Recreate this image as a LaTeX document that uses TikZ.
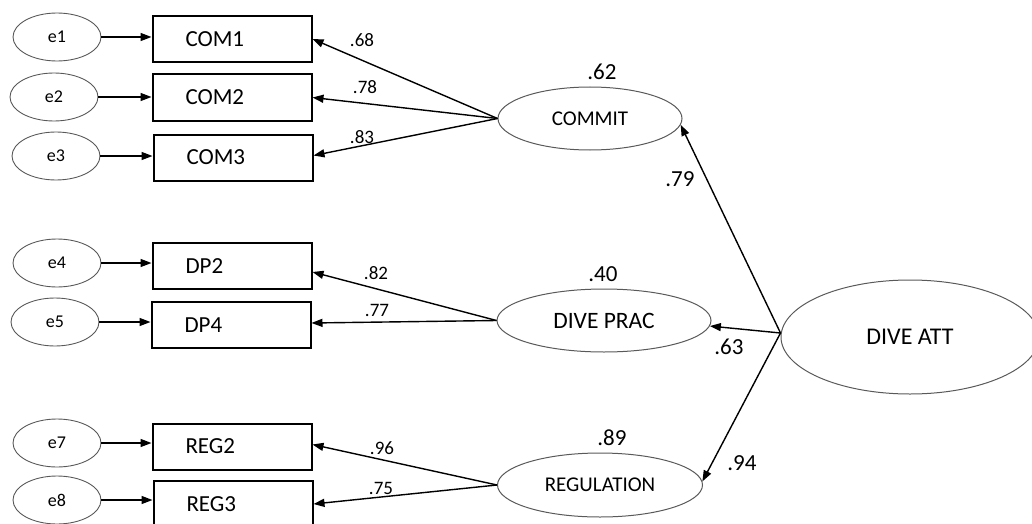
\documentclass[tikz,border=0pt]{standalone}
\usepackage{fontspec}
\setmainfont{Carlito}
\usetikzlibrary{shapes.geometric,arrows.meta}

\tikzset{
  obs/.style={draw, line width=2pt, minimum height=46pt, text width=93pt,
    inner xsep=33pt, inner ysep=0pt, align=left,
    font=\fontsize{23}{27}\selectfont},
  err/.style={draw=black!65, line width=0.9pt, ellipse, minimum width=88pt,
    minimum height=48pt, inner sep=0pt, font=\fontsize{18}{20}\selectfont},
  lat/.style={draw=black!65, line width=1pt, ellipse, inner sep=0pt},
  regpath/.style={line width=1.4pt, -{Triangle[length=11pt,width=8pt]}},
  coef/.style={inner sep=0pt, font=\fontsize{19}{21}\selectfont},
  bigcoef/.style={inner sep=0pt, font=\fontsize{23}{26}\selectfont}
}

\begin{document}
\begin{tikzpicture}[x=1pt,y=-1pt]
\useasboundingbox (0,0) rectangle (1032,524);

% error terms
\node[err] (e1) at (57,37)  {e1};
\node[err] (e2) at (54,97)  {e2};
\node[err] (e3) at (56,156) {e3};
\node[err] (e4) at (57,263) {e4};
\node[err] (e5) at (55,322) {e5};
\node[err] (e7) at (57,443) {e7};
\node[err] (e8) at (57,500) {e8};

% observed indicators
\node[obs] (com1) at (232,39)    {COM1};
\node[obs] (com2) at (232,97.5)  {COM2};
\node[obs] (com3) at (233,157.5) {COM3};
\node[obs] (dp2)  at (232,266)   {DP2};
\node[obs] (dp4)  at (231,325)   {DP4};
\node[obs] (reg2) at (232,446.5) {REG2};
\node[obs] (reg3) at (233,504)   {REG3};

% latent factors
\node[lat, minimum width=184pt, minimum height=63pt, font=\fontsize{21}{25}\selectfont]
  (commit) at (590,118.5) {COMMIT};
\node[lat, minimum width=214pt, minimum height=63pt, font=\fontsize{23.5}{27}\selectfont]
  (prac) at (604,320.5) {DIVE PRAC};
\node[lat, minimum width=205pt, minimum height=64pt, font=\fontsize{21}{25}\selectfont]
  (reg) at (600,485) {REGULATION};
\node[lat, minimum width=258pt, minimum height=114pt, font=\fontsize{24}{28}\selectfont]
  (att) at (910,337) {DIVE ATT};

% error arrows
\foreach \e/\o in {e1/com1, e2/com2, e3/com3, e4/dp2, e5/dp4, e7/reg2, e8/reg3}
  \draw[regpath] (\e.east) -- (\e.east -| \o.west);

% loadings
\draw[regpath] (commit.west) -- (com1.east);
\draw[regpath] (commit.west) -- (com2.east);
\draw[regpath] (commit.west) -- ([yshift=2pt]com3.east);
\draw[regpath] (prac.west) -- ([yshift=-6pt]dp2.east);
\draw[regpath] (prac.west) -- ([yshift=2pt]dp4.east);
\draw[regpath] (reg.west) -- ([yshift=2pt]reg2.east);
\draw[regpath] (reg.west) -- (reg3.east);

% second-order paths
\coordinate (src) at ([yshift=4pt]att.west);
\draw[regpath] (src) -- (commit.-4);
\draw[regpath] (src) -- (prac.-3);
\draw[regpath] (src) -- (reg.2.5);

% coefficients
\node[coef] (l1) at (362,40)  {.68};
\node[coef] (l2) at (365,87)  {.78};
\node[coef] (l3) at (362,137) {.83};
\node[coef] (l4) at (376,273) {.82};
\node[coef] (l5) at (377,310) {.77};
\node[coef] (l6) at (382,448) {.96};
\node[coef] (l7) at (381,488) {.75};

\node[bigcoef] (r1) at (602,72)  {.62};
\node[bigcoef] (r2) at (603,274) {.40};
\node[bigcoef] (r3) at (612,438) {.89};
\node[bigcoef] (g1) at (680,179) {.79};
\node[bigcoef] (g2) at (729,347) {.63};
\node[bigcoef] (g3) at (742,463) {.94};
\end{tikzpicture}
\end{document}
